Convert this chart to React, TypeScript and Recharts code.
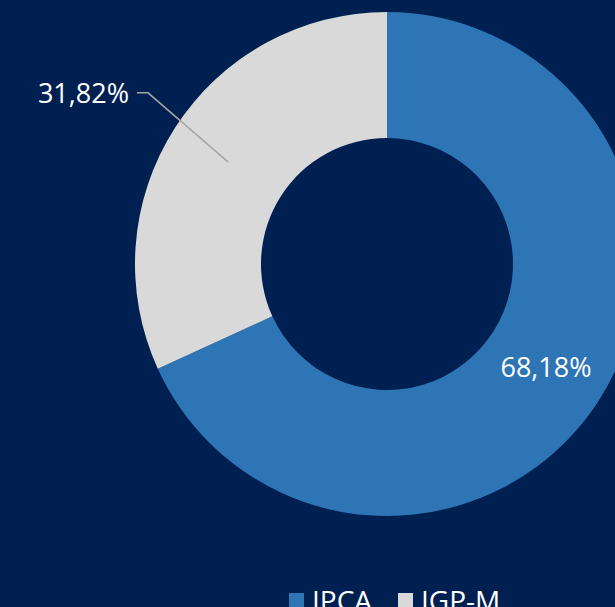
import { PieChart, Pie, Cell, Legend } from 'recharts';

const categories = ['IPCA', 'IGP-M'];
const shares = [68.18, 31.82];
const colors = ['#2E75B6', '#D9D9D9'];

const data = categories.map((name, i) => ({ name, value: shares[i] }));

const RAD = Math.PI / 180;
const fmt = (v: number) => v.toFixed(2).replace('.', ',') + '%';

const renderLabel = (props: any) => {
  const { cx, cy, midAngle, innerRadius, outerRadius, index, value } = props;
  const r = (innerRadius + outerRadius) / 2;
  const x = cx + r * Math.cos(-midAngle * RAD);
  const y = cy + r * Math.sin(-midAngle * RAD);
  if (index === 0) {
    return (
      <text x={x} y={y} fill="#ffffff" fontSize={27} textAnchor="middle" dominantBaseline="central" fontFamily="'Open Sans', sans-serif">
        {fmt(value)}
      </text>
    );
  }
  const ex = x - 80;
  const ey = y - 69;
  return (
    <g>
      <polyline points={`${x},${y} ${ex},${ey} ${ex - 11},${ey}`} fill="none" stroke="#a6a6a6" strokeWidth={1.5} />
      <text x={ex - 19} y={ey} fill="#ffffff" fontSize={27} textAnchor="end" dominantBaseline="central" fontFamily="'Open Sans', sans-serif">
        {fmt(value)}
      </text>
    </g>
  );
};

const renderLegend = () => (
  <div style={{ display: 'flex', fontFamily: "'Open Sans', sans-serif", fontSize: 28, color: '#ffffff', lineHeight: '30px' }}>
    {categories.map((c, i) => (
      <div key={c} style={{ display: 'flex', alignItems: 'center', marginRight: 26 }}>
        <span style={{ width: 15, height: 15, background: colors[i], display: 'inline-block', marginRight: 8 }} />
        <span>{c}</span>
      </div>
    ))}
  </div>
);

export default function App() {
  return (
    <div style={{ position: 'absolute', left: 0, top: 0, width: 615, height: 607, background: '#002052', overflow: 'hidden' }}>
      <PieChart width={615} height={607}>
        <Pie
          data={data}
          dataKey="value"
          nameKey="name"
          cx={382}
          cy={259}
          innerRadius={126}
          outerRadius={252}
          startAngle={90}
          endAngle={-270}
          stroke="none"
          label={renderLabel}
          labelLine={false}
          isAnimationActive={false}
        >
          {data.map((d, i) => (
            <Cell key={d.name} fill={colors[i]} />
          ))}
        </Pie>
        <Legend content={renderLegend} wrapperStyle={{ position: 'absolute', left: 289, top: 585, width: 'auto' }} />
      </PieChart>
    </div>
  );
}
